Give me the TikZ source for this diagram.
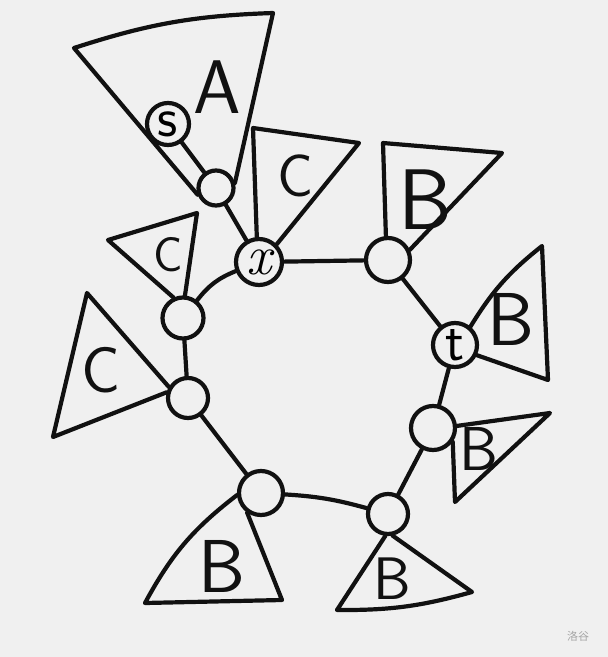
\documentclass[tikz,border=0pt]{standalone}
\usepackage{fontspec}
\newfontfamily\cjk{Noto Sans CJK SC}
\usetikzlibrary{calc}
\definecolor{paper}{RGB}{240,240,240}
\definecolor{ink}{RGB}{17,17,17}

\begin{document}
\begin{tikzpicture}[x=1pt,y=-1pt,line width=4.2pt,line cap=round,line join=round,draw=ink,
    vert/.style={circle,draw,inner sep=0pt,minimum size=42pt,font=\sffamily\fontsize{56}{56}\selectfont},
    treelabel/.style={text=ink,font=\sffamily\fontsize{#1}{#1}\selectfont}]
      \fill[paper] (0,0) rectangle (608,657);
      \useasboundingbox (0,0) rectangle (608,657);
      \node[vert] (s) at (168,124) {s};
      \node[vert,minimum size=35pt] (aroot) at (216,188) {};
      \node[vert,minimum size=46pt] (x) at (259,262) {\rmfamily\itshape x};
      \node[vert,minimum size=44pt] (bnode1) at (388,260) {};
      \node[vert,minimum size=44pt] (t) at (455,345) {t};
      \node[vert,minimum size=44pt] (bnode2) at (433,428) {};
      \node[vert,minimum size=40pt] (bnode3) at (388,514) {};
      \node[vert,minimum size=44pt] (bnode4) at (261,493) {};
      \node[vert,minimum size=40pt] (cnode1) at (188,398) {};
      \node[vert,minimum size=41pt] (cnode2) at (183,318) {};
      \draw (s) -- (aroot);
      \draw (aroot) -- (x);
      \draw (x) -- (bnode1); % ring
      \draw (bnode1) -- (t);
      \draw (t) -- (bnode2);
      \draw (bnode2) -- (bnode3);
      \draw (bnode4) to[bend left=6] (bnode3);
      \draw (bnode4) -- (cnode1);
      \draw (cnode1) -- (cnode2);
      \draw (cnode2) to[bend left=15] (x);
      \draw (aroot.200) -- (74,48) to[bend left=8] (273,13) -- (aroot.15); % tree A
      \draw (x.95) -- (253,128) -- (359,143) -- (x.45); % tree C over x
      \draw (bnode1.95) -- (383,143) -- (502,153) -- (bnode1.25);
      \draw (t.50) to[bend left=10] (542,246) -- (548,380) -- (t.335);
      \draw (bnode2.5) -- (550,413) -- (455,502) -- (bnode2.-35);
      \draw (bnode3.263) -- (337,610) to[bend right=8] (472,592) -- (bnode3.282);
      \draw (bnode4.185) to[bend right=12] (145,603) -- (282,600) -- (bnode4.235);
      \draw (cnode1.150) -- (87,293) -- (53,437) -- (cnode1.165);
      \draw (cnode2.115) -- (108,240) -- (197,213) -- (cnode2.85);
      \node[treelabel=76] (treeA) at (217,87) {A};
      \node[treelabel=60] (treeC1) at (296,176) {C};
      \node[treelabel=86] (treeB1) at (425,200) {B};
      \node[treelabel=75] (treeB2) at (511,319) {B};
      \node[treelabel=62] (treeB3) at (479,449) {B};
      \node[treelabel=60] (treeB4) at (392,579) {B};
      \node[treelabel=75] (treeB5) at (222,566) {B};
      \node[treelabel=65] (treeC2) at (101,370) {C};
      \node[treelabel=49] (treeC3) at (168,255) {C};
      \node[font=\cjk\fontsize{11}{11}\selectfont,text=gray!70] (mark) at (578,636) {洛谷};
\end{tikzpicture}
\end{document}
